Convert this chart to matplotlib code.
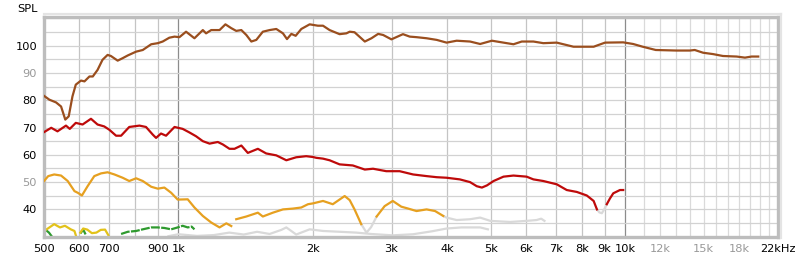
import matplotlib
matplotlib.use("Agg")
import matplotlib.pyplot as plt
import numpy as np

plt.rcParams['font.family'] = ['DejaVu Sans']

# ---------------- data ----------------
brown_f = [500,514,532,546,558,568,579,589,605,616,632,643,659,676,694,706,731,750,770,804,832,869,899,922,954,980,1005,1040,1086,1134,1153,1184,1236,1274,1313,1347,1383,1419,1456,1494,1545,1600,1656,1714,1750,1790,1830,1884,1967,2052,2107,2180,2295,2377,2418,2479,2614,2705,2800,2873,2998,3182,3295,3412,3594,3787,3985,4197,4497,4737,5033,5343,5625,5872,6234,6561,7031,7666,8504,9020,9905,10425,10953,11714,13027,13960,14323,14949,15736,16563,17780,18554,19200,19870]
brown_v = [81.6,80.2,79.2,77.7,72.9,74.1,81.4,85.7,87.2,86.9,88.7,88.7,91.1,94.8,96.6,96.2,94.5,95.4,96.4,97.8,98.4,100.5,100.9,101.5,102.9,103.3,103.1,105.1,102.7,105.7,104.5,105.7,105.7,107.8,106.4,105.4,105.7,103.9,101.5,102.1,105.1,105.7,106.1,104.5,102.4,104.3,103.6,106.1,107.8,107.3,107.3,105.7,104.2,104.5,105.1,104.9,101.5,102.7,104.3,103.9,102.3,104.2,103.3,103.1,102.7,102.1,101.1,101.8,101.5,100.6,101.8,101.1,100.5,101.5,101.5,100.9,101.1,99.6,99.6,101.1,101.2,100.6,99.6,98.4,98.2,98.2,98.4,97.4,96.9,96.2,96.0,95.6,96.0,96.0]

red1_f = [500,519,536,560,571,589,610,637,659,682,700,725,744,776,818,846,876,891,914,938,980,1022,1058,1095,1134,1174,1225,1257,1301,1335,1383,1430,1506,1572,1656,1744,1835,1932,2000,2035,2107,2180,2295,2457,2614,2727,2920,3128,3353,3594,3787,3985,4265,4497,4655,4780,4907,5076,5343,5625,6019,6234,6561,7031,7403,7796,8208,8504,8650]
red1_v = [68.3,69.9,68.6,70.7,69.5,71.7,71.1,73.2,71.1,70.4,69.2,67.0,67.0,70.2,70.7,70.2,67.4,66.2,67.8,67.0,70.2,69.5,68.2,66.8,65.0,64.1,64.7,63.8,62.2,62.2,63.4,60.7,62.2,60.5,59.8,58.0,59.1,59.5,59.2,58.9,58.6,58.0,56.5,56.1,54.6,54.9,54.0,54.0,52.8,52.2,51.8,51.6,51.0,50.0,48.5,48.0,48.8,50.4,52.0,52.4,52.0,51.0,50.4,49.2,47.1,46.4,45.1,43.1,40.0]
red_grey_f = [8650,8760,8872,8980,9100]
red_grey_v = [40.0,38.9,38.6,40.0,41.9]
red2_f = [9100,9250,9410,9740,9905]
red2_v = [41.9,44.0,45.9,47.1,47.1]

orange1_f = [500,511,527,546,565,585,595,608,626,648,671,694,719,750,776,804,832,869,899,930,963,996,1049,1086,1134,1184,1236,1280,1313]
orange1_v = [50.4,52.2,52.8,52.4,50.4,46.7,46.1,45.1,48.5,52.2,53.2,53.6,52.8,51.6,50.4,51.4,50.4,48.3,47.6,48.0,46.1,43.6,43.7,40.7,37.6,35.2,33.4,34.9,33.9]
orange2_f = [1347,1419,1468,1506,1545,1627,1714,1805,1884,1950,2000,2107,2216,2356,2418,2479,2566]
orange2_v = [36.4,37.4,38.2,38.8,37.4,38.8,40.0,40.3,40.7,41.9,42.2,43.1,41.9,44.9,43.4,40.0,34.6]
orange_grey_f = [2566,2637,2700,2778]
orange_grey_v = [34.6,31.5,33.5,37.4]
orange3_f = [2778,2895,3019,3155,3269,3412,3594,3755,3917]
orange3_v = [37.4,41.2,43.1,41.0,40.3,39.4,40.0,39.4,37.6]
orange_tail_f = [3917,3985,4197,4497,4737,4990,5530,6019,6334,6490,6600]
orange_tail_v = [37.6,37.0,36.1,36.4,37.0,35.8,35.4,35.8,36.1,36.6,35.8]

grey_low_f = [950,1000,1100,1200,1300,1400,1500,1600,1700,1744,1835,1967,2107,2300,2500,2700,3019,3353,3700,3985,4300,4737,4930]
grey_low_v = [30.2,30.9,30.3,30.6,31.5,30.8,31.8,31.0,32.5,33.4,30.8,32.7,32.1,31.8,31.5,31.0,30.5,30.9,32.0,33.0,33.4,33.4,32.7]

yellow1_f = [500,510,527,543,557,574,585,590]
yellow1_v = [32.1,33.0,34.6,33.4,34.0,32.7,32.1,30.2]
yellow2_f = [603,612,625,640,655,670,685,697]
yellow2_v = [31.5,33.0,32.6,31.3,31.5,32.5,32.6,30.5]

green1_f = [500,506,513,520]
green1_v = [32.5,32.3,31.5,30.2]
green2_f = [605,612,618]
green2_v = [31.5,32.6,31.2]
green3_f = [744,770,804,832,869,899,930,963,996,1022,1049,1070,1086]
green3_v = [31.0,31.8,32.1,32.7,33.4,33.4,33.2,32.7,33.4,34.0,33.4,33.7,32.7]

x_ticks = [500,600,700,900,1000,2000,3000,4000,5000,6000,7000,8000,9000,10000,12000,15000,18000,22000]
x_labels = ['500','600','700','900','1k','2k','3k','4k','5k','6k','7k','8k','9k','10k','12k','15k','18k','22kHz']
x_grey_labels = ['12k','15k','18k']
y_ticks = [40,50,60,70,80,90,100]
y_grey_labels = ['50','90']

# ---------------- figure ----------------
fig = plt.figure(figsize=(8, 2.6), dpi=100)
ax = fig.add_axes([0.055, 0.0896, 0.9175, 0.8462])
ax.set_xscale('log')
ax.set_xlim(500, 22000)
ax.set_ylim(30, 110.6)

# grid
for f in list(range(500, 1000, 100)) + list(range(2000, 10000, 1000)):
    ax.axvline(f, color='#C4C4C4', lw=0.9, zorder=0)
for f in range(11000, 22001, 1000):
    ax.axvline(f, color='#DADADA', lw=0.9, zorder=0)
for f in [1000, 10000]:
    ax.axvline(f, color='#8C8C8C', lw=0.9, zorder=0)
for y in range(35, 111, 5):
    ax.axhline(y, color='#D2D2D2', lw=0.9, zorder=0)

LW = 1.6
grey = '#D9D9D9'
ax.plot(grey_low_f, grey_low_v, color=grey, lw=LW, zorder=1)
ax.plot(orange_tail_f, orange_tail_v, color=grey, lw=LW, zorder=1)
ax.plot(orange_grey_f, orange_grey_v, color=grey, lw=LW, zorder=1)
ax.plot(red_grey_f, red_grey_v, color=grey, lw=LW, zorder=1)

ax.plot(green1_f, green1_v, color='#2E9A2E', lw=LW, zorder=2)
ax.plot(green2_f, green2_v, color='#2E9A2E', lw=LW, zorder=2)
ax.plot(green3_f, green3_v, color='#2E9A2E', lw=LW, zorder=2, ls=(0, (4, 0.6)))
ax.plot(yellow1_f, yellow1_v, color='#E2C21A', lw=LW, zorder=2)
ax.plot(yellow2_f, yellow2_v, color='#E2C21A', lw=LW, zorder=2)
for f_, v_ in [(orange1_f, orange1_v), (orange2_f, orange2_v), (orange3_f, orange3_v)]:
    ax.plot(f_, v_, color='#E6A020', lw=LW, zorder=3)
ax.plot(red1_f, red1_v, color='#BE0A0A', lw=LW, zorder=4)
ax.plot(red2_f, red2_v, color='#BE0A0A', lw=LW, zorder=4)
ax.plot(brown_f, brown_v, color='#9A4E1E', lw=LW, zorder=5)

# ticks
ax.xaxis.set_minor_locator(matplotlib.ticker.NullLocator())
ax.set_xticks(x_ticks)
ax.set_xticklabels(x_labels)
ax.set_yticks(y_ticks)
ax.set_yticklabels([str(v) for v in y_ticks])
ax.tick_params(axis='both', length=0, labelsize=8.2)
ax.tick_params(axis='x', pad=5)
ax.tick_params(axis='y', pad=5)
for lab in ax.get_xticklabels():
    lab.set_color('#999999' if lab.get_text() in x_grey_labels else 'black')
for lab in ax.get_yticklabels():
    lab.set_color('#999999' if lab.get_text() in y_grey_labels else 'black')

for s in ax.spines.values():
    s.set_color('#BDBDBD')
    s.set_linewidth(2.4)

# soft shadow along top and right edges of the frame
x0, y0, w, h = 0.055, 0.0896, 0.9175, 0.8462
fig.add_artist(plt.Line2D([x0, x0 + w + 2.5/800], [y0 + h + 2.5/260] * 2,
                          color='#E4E4E4', lw=1.6, transform=fig.transFigure))
fig.add_artist(plt.Line2D([x0 + w + 2.5/800] * 2, [y0 - 1/260, y0 + h + 2.5/260],
                          color='#E4E4E4', lw=1.6, transform=fig.transFigure))

fig.text(17/800, 1 - 8.5/260, 'SPL', fontsize=8.2, va='center', ha='left')

fig.savefig('out.png', dpi=100)
